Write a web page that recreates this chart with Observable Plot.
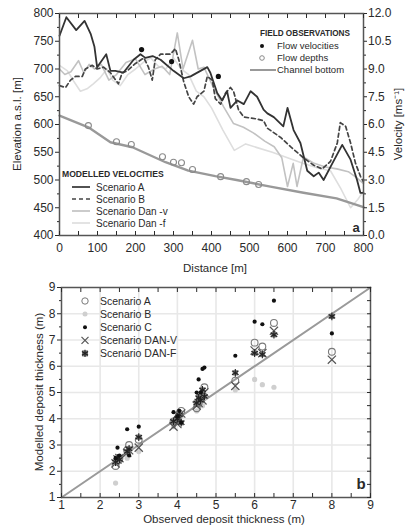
<!DOCTYPE html>
<html><head><meta charset="utf-8">
<script src="https://cdn.jsdelivr.net/npm/d3@7"></script>
<script src="https://cdn.jsdelivr.net/npm/@observablehq/plot@0.6"></script>
<style>
body{margin:0;background:#fff;}
#chart{width:406px;}
svg{display:block;}
</style></head><body><div id="chart"></div>
<script>
// ---------- Panel a data ----------
const distA = [0,18,44,66,82,92,99,123,134,147,168,195,213,226,245,266,300,327,345,371,389,397,415,428,441,450,468,485,503,520,537,547,564,589,600,616,634,652,669,682,695,718,744,766,783,792,800];
const velA  = [10.8,11.8,11.1,11.6,10.9,10.2,9.1,9.8,8.9,8.9,8.8,9.5,9.8,9.6,9.7,9.5,8.9,8.5,8.6,8.9,9.1,8.8,7.7,7.3,7.8,6.9,7.3,7.1,7.8,7.5,6.8,6.6,6.4,5.9,6.9,5.7,5.0,3.5,3.2,3.4,3.0,3.9,4.9,4.1,3.0,2.3,2.3];
const distB = [0,16,29,42,60,68,86,99,116,134,155,165,178,200,222,234,244,252,266,292,305,314,327,340,353,362,380,389,402,410,424,437,450,458,471,485,520,537,547,582,608,642,669,691,713,731,739,753,766,779,792,800];
const velB  = [8.1,8.0,8.4,8.6,8.6,9.0,9.2,9.0,9.1,8.8,8.2,8.8,8.9,9.3,9.6,9.1,8.4,9.5,9.8,9.8,10.1,9.5,8.3,7.5,7.1,7.5,7.8,8.6,8.4,7.4,7.1,7.7,8.0,7.8,6.8,6.4,6.3,6.2,5.8,5.3,4.8,4.2,3.8,3.6,4.0,5.0,6.1,5.9,5.0,3.9,3.2,2.9];
const distDanV = [0,14,30,50,64,78,92,110,130,150,175,200,225,250,270,290,310,325,350,365,380,405,432,458,484,510,540,565,585,600,615,625,642,670,700,730,760,780,800];
const velDanV  = [9.0,8.7,8.85,9.45,8.8,9.25,9.0,9.25,8.4,8.7,9.35,9.55,8.7,9.0,9.15,8.7,10.95,9.0,10.55,9.0,9.1,8.0,6.95,6.05,5.85,5.55,5.1,4.8,4.2,2.65,3.9,2.65,4.25,3.9,3.7,3.6,3.45,3.15,2.8];
const distDanF = [0,21,37,55,74,89,108,125,140,160,180,200,220,240,260,280,300,320,340,360,380,400,430,460,490,520,560,600,640,680,713,740,766,785,800];
const velDanF  = [9.2,8.9,8.35,7.8,7.95,8.2,8.55,9.0,8.4,8.1,8.7,9.0,9.35,9.6,9.15,9.0,9.6,9.0,8.7,7.8,7.5,6.9,5.7,4.6,4.95,4.75,4.5,4.2,3.9,3.65,3.5,2.55,1.5,1.95,2.4];
const distChannel = [0,76,134,192,279,339,410,466,555,642,729,800];
const elevChannel = [616,595,568,559,532,517,507,500,488,477,467,451];
const distDepth = [76,150,189,271,300,321,350,424,492,524];
const elevDepth = [598,569,564,542,532,531,519,506,497,492];
const distObsVel = [216,295,418];
const velObs     = [10.05,9.4,8.6];
const elevTicks = [400,450,500,550,600,650,700,750,800];
const distTicks = [0,100,200,300,400,500,600,700,800];

// ---------- Panel b data ----------
const observed = [2.4,2.45,2.5,2.7,2.75,3.0,3.9,4.0,4.05,4.1,4.5,4.55,4.6,4.65,4.7,5.5,6.0,6.2,6.5,8.0];
const scenA = [2.2,2.4,2.5,2.8,3.0,3.2,3.9,4.0,4.2,4.3,4.4,4.6,4.8,4.9,5.2,5.45,6.9,6.75,7.65,6.55];
const scenB = [1.55,2.3,2.4,2.5,2.7,2.75,3.7,3.9,4.0,4.1,4.3,4.5,4.6,4.5,4.8,5.1,5.5,5.3,5.2,7.9];
const scenC = [2.5,2.9,2.6,3.6,2.6,3.7,4.25,4.1,4.3,3.85,5.0,5.5,5.0,5.9,5.95,6.4,7.7,7.6,8.5,7.25];
const danV  = [2.3,2.45,2.5,2.7,2.8,2.9,3.7,3.8,4.0,4.2,4.5,4.6,4.8,4.7,5.0,5.25,6.6,6.5,7.35,6.25];
const danF  = [2.35,2.5,2.45,2.75,2.85,3.3,3.9,4.0,4.15,3.85,4.6,4.8,4.7,5.1,4.85,5.75,6.5,6.45,7.2,7.9];
const oneToOne = [1,9];
const thickTicks = [1,2,3,4,5,6,7,8,9];

const FONT = "Liberation Sans, Arial, sans-serif";
const toElev = v => 400 + v * 400 / 12;
const rows = (xs, ys) => xs.map((x, i) => ({x, y: ys[i]}));
const blank = () => "";

// ---------- Panel a ----------
const plotA = Plot.plot({
  width: 406, height: 270,
  marginTop: 13, marginBottom: 35, marginLeft: 59, marginRight: 43,
  style: {fontFamily: FONT, fontSize: "12px", color: "#2a2a2a", background: "#fff", overflow: "visible"},
  x: {domain: [0, 800]},
  y: {domain: [400, 800]},
  marks: [
    Plot.line(rows(distDanF, velDanF), {x: "x", y: d => toElev(d.y), stroke: "#dedede", strokeWidth: 1.6}),
    Plot.line(rows(distDanV, velDanV), {x: "x", y: d => toElev(d.y), stroke: "#c2c2c2", strokeWidth: 1.6}),
    Plot.line(rows(distChannel, elevChannel), {x: "x", y: "y", stroke: "#999", strokeWidth: 2.4}),
    Plot.line(rows(distB, velB), {x: "x", y: d => toElev(d.y), stroke: "#444", strokeWidth: 1.7, strokeDasharray: "4,3"}),
    Plot.line(rows(distA, velA), {x: "x", y: d => toElev(d.y), stroke: "#333", strokeWidth: 1.8}),
    Plot.dot(rows(distDepth, elevDepth), {x: "x", y: "y", r: 3, stroke: "#8a8a8a", fill: "none", strokeWidth: 1.1}),
    Plot.dot(rows(distObsVel, velObs), {x: "x", y: d => toElev(d.y), r: 2.6, fill: "#111", stroke: "none"}),
    Plot.frame({stroke: "#555", strokeWidth: 1.5}),
    Plot.axisY({ticks: elevTicks, tickSize: 4, tickPadding: 2, tickFormat: d => d, label: null, fontSize: 12}),
    Plot.axisY({ticks: d3.range(425, 800, 50), tickSize: 2, tickFormat: blank, label: null}),
    Plot.axisY({anchor: "right", ticks: elevTicks, tickSize: 3, tickPadding: 1.5, tickFormat: d => ((d - 400) * 12 / 400).toFixed(1), label: null, fontSize: 12}),
    Plot.axisY({anchor: "right", ticks: d3.range(425, 800, 50), tickSize: 2, tickFormat: blank, label: null}),
    Plot.axisX({ticks: distTicks, tickSize: 0, tickPadding: 8, tickFormat: d => d, label: null, fontSize: 12}),
    Plot.axisX({ticks: d3.range(0, 801, 50), tickSize: -4, tickFormat: blank, label: null}),
    Plot.axisX({anchor: "top", ticks: d3.range(0, 801, 50), tickSize: -4, tickFormat: blank, label: null})
  ]
});

// ---------- Panel b ----------
const ptsOf = ys => observed.map((x, i) => ({x, y: ys[i]}));
const plotB = Plot.plot({
  width: 406, height: 256,
  marginTop: 17, marginBottom: 29, marginLeft: 61, marginRight: 36,
  style: {fontFamily: FONT, fontSize: "12px", color: "#2a2a2a", background: "#fff", overflow: "visible"},
  x: {domain: [1, 9]},
  y: {domain: [1, 9]},
  marks: [
    Plot.gridX(d3.range(2, 9), {stroke: "#e8e8e8", strokeOpacity: 1, strokeWidth: 1.6}),
    Plot.gridY(d3.range(2, 9), {stroke: "#e8e8e8", strokeOpacity: 1, strokeWidth: 1.6}),
    Plot.line(oneToOne, {x: d => d, y: d => d, stroke: "#9a9a9a", strokeWidth: 2}),
    Plot.dot(ptsOf(scenB), {x: "x", y: "y", r: 2.6, fill: "#cfcfcf", stroke: "none"}),
    Plot.dot(ptsOf(scenA), {x: "x", y: "y", r: 3.4, fill: "none", stroke: "#7a7a7a", strokeWidth: 1.1}),
    Plot.dot(ptsOf(danV), {x: "x", y: "y", symbol: "times", r: 3.8, stroke: "#555", strokeWidth: 1.2}),
    Plot.dot(ptsOf(danF), {x: "x", y: "y", symbol: "square", r: 3.0, fill: "#777", stroke: "none"}),
    Plot.dot(ptsOf(danF), {x: "x", y: "y", symbol: "asterisk", r: 3.6, stroke: "#222", strokeWidth: 1.1}),
    Plot.dot(ptsOf(scenC), {x: "x", y: "y", r: 2.1, fill: "#111", stroke: "none"}),
    Plot.frame({stroke: "#555", strokeWidth: 1.5}),
    Plot.axisY({ticks: thickTicks, tickSize: 4, tickPadding: 2, tickFormat: d => d, label: null, fontSize: 12}),
    Plot.axisY({ticks: d3.range(1.5, 9, 1), tickSize: 2, tickFormat: blank, label: null}),
    Plot.axisY({anchor: "right", ticks: d3.range(1, 9.01, 0.5), tickSize: -4, tickFormat: blank, label: null}),
    Plot.axisX({ticks: thickTicks, tickSize: 0, tickPadding: 3, tickFormat: d => d, label: null, fontSize: 12}),
    Plot.axisX({ticks: d3.range(1, 9.01, 0.5), tickSize: -4, tickFormat: blank, label: null}),
    Plot.axisX({anchor: "top", ticks: d3.range(1, 9.01, 0.5), tickSize: -4, tickFormat: blank, label: null})
  ]
});

// ---------- axis titles and legends (decorations) ----------
function addText(g, x, y, s, opts = {}) {
  const t = g.append("text").attr("x", x).attr("y", y).text(s)
    .attr("font-family", FONT).attr("font-size", opts.size || 9.5)
    .attr("font-weight", opts.bold ? "bold" : "normal")
    .attr("text-anchor", opts.anchor || "start").attr("fill", "#2a2a2a");
  if (opts.rotate) {
    t.attr("x", 0).attr("y", 0).attr("transform", `translate(${x},${y}) rotate(${opts.rotate})`);
  }
  if (opts.central) t.attr("dominant-baseline", "central");
  return t;
}
{
  const g = d3.select(plotA).append("g");
  addText(g, 17, 124, "Elevation a.s.l. [m]", {size: 11.5, anchor: "middle", rotate: -90, central: true});
  addText(g, 398, 124, "Velocity [ms⁻¹]", {size: 11.5, anchor: "middle", rotate: -90, central: true});
  addText(g, 215, 267.5, "Distance [m]", {size: 11.5, anchor: "middle", central: true});

  addText(g, 350, 36, "FIELD OBSERVATIONS", {bold: true, size: 8.2, anchor: "end"});
  g.append("circle").attr("cx", 262).attr("cy", 46).attr("r", 2).attr("fill", "#111");
  addText(g, 277, 49, "Flow velocities", {size: 9.5});
  g.append("circle").attr("cx", 262).attr("cy", 58).attr("r", 2.3).attr("fill", "none").attr("stroke", "#8a8a8a");
  addText(g, 277, 61, "Flow depths", {size: 9.5});
  g.append("line").attr("x1", 250).attr("x2", 276).attr("y1", 70).attr("y2", 70).attr("stroke", "#999").attr("stroke-width", 2);
  addText(g, 277, 73, "Channel bottom", {size: 9.5});

  addText(g, 62, 177, "MODELLED VELOCITIES", {bold: true, size: 8.6});
  const items = [
    ["Scenario A", "#333", null],
    ["Scenario B", "#444", "4,3"],
    ["Scenario Dan -v", "#c2c2c2", null],
    ["Scenario Dan -f", "#dedede", null]
  ];
  items.forEach(([s, c, dash], i) => {
    const y = 187 + i * 12;
    const l = g.append("line").attr("x1", 72).attr("x2", 90).attr("y1", y).attr("y2", y).attr("stroke", c).attr("stroke-width", 1.7);
    if (dash) l.attr("stroke-dasharray", dash);
    addText(g, 96, y + 3.5, s, {size: 10});
  });
  addText(g, 356, 232, "a", {bold: true, size: 13, anchor: "middle"});
}
{
  const g = d3.select(plotB).append("g");
  addText(g, 39, 122, "Modelled deposit thickness (m)", {size: 11.5, anchor: "middle", rotate: -90, central: true});
  addText(g, 224, 249, "Observed deposit thickness (m)", {size: 11.5, anchor: "middle", central: true});
  const names = ["Scenario A", "Scenario B", "Scenario C", "Scenario DAN-V", "Scenario DAN-F"];
  names.forEach((s, i) => {
    const y = 31 + i * 13.1;
    addText(g, 100, y + 3.8, s, {size: 10.5});
  });
  const sx = 85;
  g.append("circle").attr("cx", sx).attr("cy", 31).attr("r", 3.2).attr("fill", "none").attr("stroke", "#7a7a7a");
  g.append("circle").attr("cx", sx).attr("cy", 44.1).attr("r", 2.5).attr("fill", "#cfcfcf");
  g.append("circle").attr("cx", sx).attr("cy", 57.2).attr("r", 2).attr("fill", "#111");
  g.append("path").attr("d", `M${sx-3.5},${70.3-3.5}L${sx+3.5},${70.3+3.5}M${sx-3.5},${70.3+3.5}L${sx+3.5},${70.3-3.5}`).attr("stroke", "#555").attr("stroke-width", 1.2);
  g.append("rect").attr("x", sx - 3).attr("y", 83.4 - 3).attr("width", 6).attr("height", 6).attr("fill", "#777");
  g.append("path").attr("d", `M${sx},${83.4-3.6}V${83.4+3.6}M${sx-3.1},${83.4-1.8}L${sx+3.1},${83.4+1.8}M${sx-3.1},${83.4+1.8}L${sx+3.1},${83.4-1.8}`).attr("stroke", "#222").attr("stroke-width", 1.1);
  addText(g, 361, 219, "b", {bold: true, size: 15, anchor: "middle"});
}

document.getElementById("chart").append(plotA, plotB);
</script>
</body></html>
